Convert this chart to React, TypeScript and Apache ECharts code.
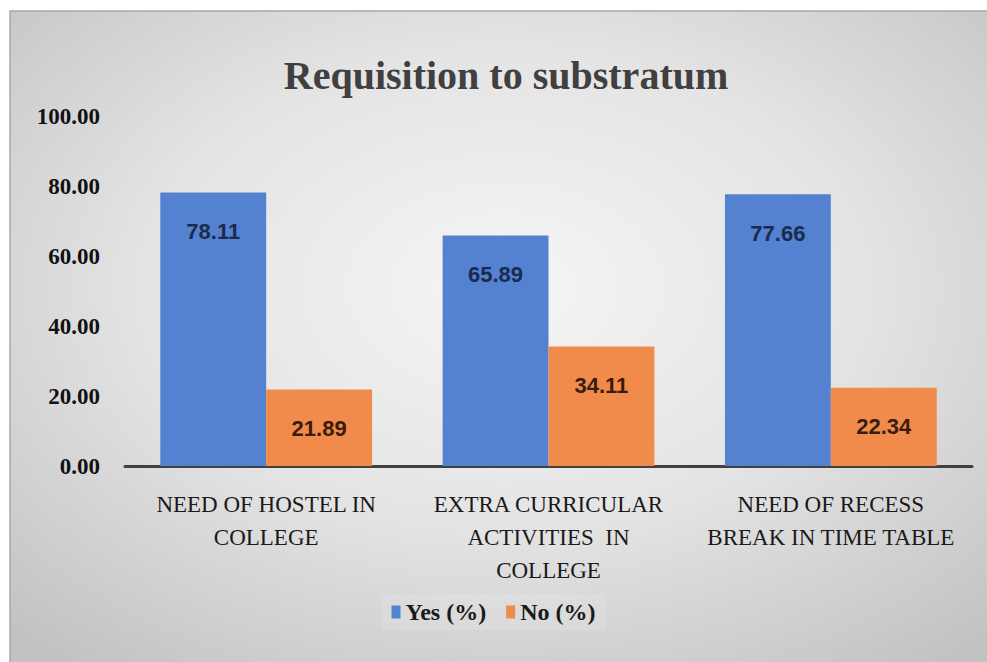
import React, { useEffect, useRef } from "react";
import * as echarts from "echarts";

const categories = [
  "NEED OF HOSTEL IN\nCOLLEGE",
  "EXTRA CURRICULAR\nACTIVITIES  IN\nCOLLEGE",
  "NEED OF RECESS\nBREAK IN TIME TABLE",
];
const yesValues = [78.11, 65.89, 77.66];
const noValues = [21.89, 34.11, 22.34];
const seriesNames = ["Yes (%)", "No (%)"];
const titleText = "Requisition to substratum";

export default function App() {
  const ref = useRef<HTMLDivElement>(null);
  useEffect(() => {
    if (!ref.current) return;
    const chart = echarts.init(ref.current, undefined, { renderer: "svg" });
    const serif = "Liberation Serif";
    const sans = "Liberation Sans";
    chart.setOption({
      animation: false,
      backgroundColor: "#ffffff",
      graphic: [
        {
          type: "rect",
          z: -10,
          silent: true,
          shape: { x: 10, y: 11, width: 990, height: 660 },
          style: {
            fill: {
              type: "radial",
              x: 0.5,
              y: 0.42,
              r: 0.72,
              colorStops: [
                { offset: 0, color: "#f5f5f5" },
                { offset: 0.5, color: "#e4e4e4" },
                { offset: 1, color: "#c2c2c2" },
              ],
            },
            stroke: "#a8a8a8",
            lineWidth: 1.5,
          },
        },
      ],
      title: {
        text: titleText,
        left: 501,
        textAlign: "center",
        top: 50,
        textStyle: {
          fontFamily: serif,
          fontSize: 40,
          fontWeight: "bold",
          color: "#404040",
        },
      },
      legend: {
        data: seriesNames,
        left: "center",
        top: 594,
        itemWidth: 9,
        itemHeight: 13,
        itemGap: 20,
        icon: "rect",
        padding: [6, 10],
        backgroundColor: "rgba(255,255,255,0.12)",
        textStyle: {
          fontFamily: serif,
          fontSize: 24,
          fontWeight: "bold",
          color: "#1a1a1a",
        },
      },
      grid: { left: 125, right: 15, top: 116, bottom: 196, containLabel: false },
      xAxis: {
        type: "category",
        data: categories,
        axisLine: { show: true, lineStyle: { color: "#404040", width: 3 } },
        axisTick: { show: false },
        axisLabel: {
          fontFamily: serif,
          fontSize: 23,
          color: "#1a1a1a",
          lineHeight: 33,
          margin: 22,
          interval: 0,
        },
      },
      yAxis: {
        type: "value",
        min: 0,
        max: 100,
        interval: 20,
        axisLine: { show: false },
        axisTick: { show: false },
        splitLine: { show: false },
        axisLabel: {
          formatter: (v: number) => v.toFixed(2),
          fontFamily: serif,
          fontSize: 23,
          fontWeight: "bold",
          color: "#111111",
          margin: 25,
        },
      },
      series: [
        {
          name: seriesNames[0],
          type: "bar",
          data: yesValues,
          barGap: "0%",
          barCategoryGap: "25%",
          itemStyle: { color: "#5482d0" },
          label: {
            show: true,
            position: "insideTop",
            distance: 28,
            formatter: (p: any) => p.value.toFixed(2),
            fontFamily: sans,
            fontSize: 22,
            fontWeight: "bold",
            color: "#1b2a4e",
          },
        },
        {
          name: seriesNames[1],
          type: "bar",
          data: noValues,
          itemStyle: { color: "#f08b4b" },
          label: {
            show: true,
            position: "insideTop",
            distance: 28,
            formatter: (p: any) => p.value.toFixed(2),
            fontFamily: sans,
            fontSize: 22,
            fontWeight: "bold",
            color: "#3a1c0c",
          },
        },
      ],
    });
    return () => chart.dispose();
  }, []);
  return (
    <div style={{ position: "fixed", left: 0, top: 0, width: 987, height: 662 }}>
      <div ref={ref} style={{ width: 987, height: 662 }} />
    </div>
  );
}
